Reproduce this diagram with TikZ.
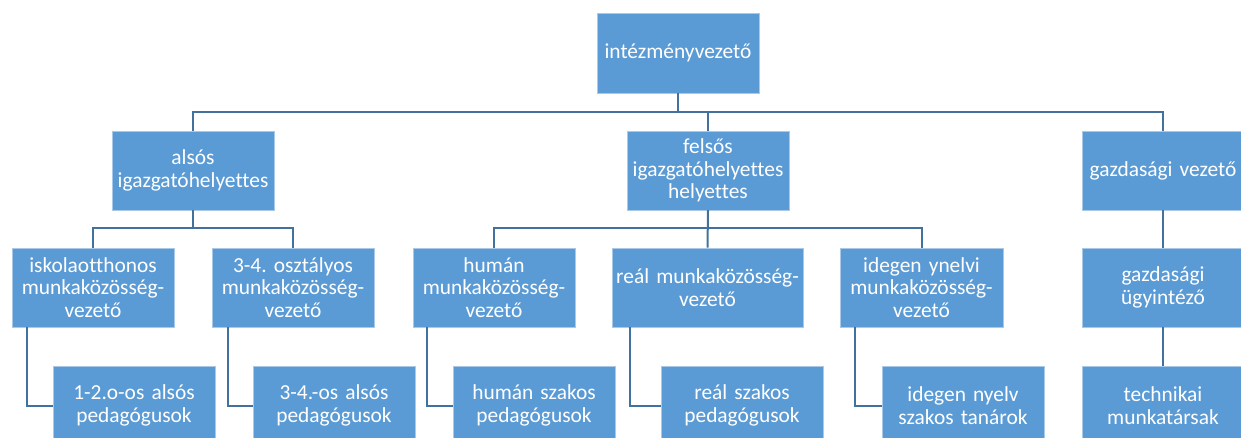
\documentclass[tikz,border=0pt]{standalone}
\usepackage{fontspec}
\setmainfont{Carlito}[Ligatures=NoCommon]
\definecolor{boxblue}{HTML}{5B9BD5}
\definecolor{boxedge}{HTML}{A9C9E8}
\definecolor{linkblue}{HTML}{41719C}
\frenchspacing
\begin{document}
\begin{tikzpicture}[x=1pt,y=-1pt,
  orgbox/.style={fill=boxblue,draw=boxedge,line width=0.8pt,text=white,
    align=center,inner sep=2pt,minimum width=162pt,minimum height=79pt,
    text width=158pt,font=\fontsize{21.4}{22.7}\selectfont},
  link/.style={draw=linkblue,line width=2pt}]
\useasboundingbox (0,0) rectangle (1241,438);
% level 0
\node[orgbox,minimum height=80pt] (top) at (678,53) {intézményvezető};
% level 1
\node[orgbox] (alsos) at (193,170.5) {alsós\\igazgatóhelyettes};
\node[orgbox] (felsos) at (708,170.5) {felsős\\igazgatóhelyettes\\helyettes};
\node[orgbox] (gazd) at (1163,170.5) {gazdasági vezető};
% level 2
\node[orgbox] (iskola) at (93,287.5) {iskolaotthonos\\munkaközösség-\\vezető};
\node[orgbox] (osz) at (293,287.5) {3-4. osztályos\\munkaközösség-\\vezető};
\node[orgbox] (human) at (494,287.5) {humán\\munkaközösség-\\vezető};
\node[orgbox,minimum width=191pt,text width=187pt] (real) at (707.5,287.5) {reál munkaközösség-\\vezető};
\node[orgbox,minimum width=163pt] (idegen) at (921.5,287.5) {idegen ynelvi\\munkaközösség-\\vezető};
\node[orgbox] (ugy) at (1163,287.5) {gazdasági\\ügyintéző};
% level 3
\node[orgbox] (p12) at (134,405.5) {1-2.o-os alsós\\pedagógusok};
\node[orgbox] (p34) at (334,405.5) {3-4.-os alsós\\pedagógusok};
\node[orgbox] (hsz) at (534,405.5) {humán szakos\\pedagógusok};
\node[orgbox] (rsz) at (742,405.5) {reál szakos\\pedagógusok};
\node[orgbox] (isz) at (963,405.5) {idegen nyelv\\szakos tanárok};
\node[orgbox] (tech) at (1163,405.5) {technikai\\munkatársak};
% connectors
\draw[link] (top.south) -- ++(0,19) -| (alsos.north);
\draw[link] (top.south) -- ++(0,19) -| (felsos.north);
\draw[link] (top.south) -- ++(0,19) -| (gazd.north);
\draw[link] (alsos.south) -- ++(0,18) -| (iskola.north);
\draw[link] (alsos.south) -- ++(0,18) -| (osz.north);
\draw[link] (felsos.south) -- ++(0,18) -| (human.north);
\draw[link] (felsos.south) -- (real.north);
\draw[link] (felsos.south) -- ++(0,18) -| (idegen.north);
\draw[link] (gazd.south) -- (ugy.north);
\draw[link] ([xshift=15pt]iskola.south west) |- (p12.west);
\draw[link] ([xshift=16pt]osz.south west) |- (p34.west);
\draw[link] ([xshift=14pt]human.south west) |- (hsz.west);
\draw[link] ([xshift=18pt]real.south west) |- (rsz.west);
\draw[link] ([xshift=15pt]idegen.south west) |- (isz.west);
\draw[link] (ugy.south) -- (tech.north);
\end{tikzpicture}
\end{document}
